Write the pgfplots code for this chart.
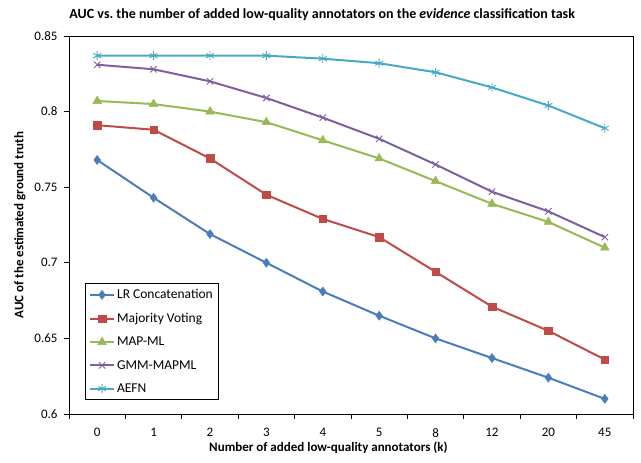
\documentclass[border=0pt]{standalone}
\usepackage{fontspec}
\setmainfont{Carlito}
\usepackage{pgfplots}
\pgfplotsset{compat=1.18}
\definecolor{cLR}{HTML}{4A7EBB}
\definecolor{cMV}{HTML}{BE4B48}
\definecolor{cMAP}{HTML}{98B954}
\definecolor{cGMM}{HTML}{7D60A0}
\definecolor{cAEFN}{HTML}{46AAC5}
\begin{document}
\begin{tikzpicture}
\begin{axis}[
  at={(0,0)}, anchor=south west,
  scale only axis, width=564pt, height=378pt,
  xmin=-0.5, xmax=9.5, ymin=0.6, ymax=0.85,
  xtick={0,...,9},
  xticklabels={0,1,2,3,4,5,8,12,20,45},
  minor xtick={-0.5,0.5,...,9.5},
  major x tick style={draw=none},
  ytick={0.6,0.65,...,0.851},
  yticklabel style={/pgf/number format/fixed,/pgf/number format/precision=2, xshift=-3pt},
  /pgf/number format/assume math mode=true,
  tick align=outside, major tick length=5pt, minor tick length=5pt,
  tick style={black, line width=0.6pt},
  axis line style={black, line width=0.8pt},
  ticklabel style={font=\fontsize{13}{15}\selectfont},
  xticklabel style={yshift=-6pt},
  xtick pos=bottom, ytick pos=left,
  title={\textbf{AUC vs.\ the number of added low-quality annotators on the \textit{evidence} classification task}},
  title style={font=\fontsize{14}{16}\selectfont, at={(0.449,1)}, anchor=center, yshift=15pt},
  xlabel={\textbf{Number of added low-quality annotators (k)}},
  xlabel style={font=\fontsize{13}{15}\selectfont, at={(0.46,0)}, anchor=center, yshift=-34pt},
  ylabel={\textbf{AUC of the estimated ground truth}},
  ylabel style={font=\fontsize{13}{15}\selectfont, at={(0,0.5)}, anchor=center, yshift=49pt},
  legend style={at={(0.028,0.037)}, anchor=south west, draw=black, line width=0.6pt,
    font=\fontsize{13.5}{15}\selectfont, row sep=9pt, inner sep=4pt},
  legend cell align=left,
  every axis plot/.append style={line width=2pt},
  legend image code/.code={\draw[#1] (0pt,0pt) -- (24pt,0pt); \draw[#1,mark repeat=1] plot coordinates {(12pt,0pt)};},
]
\addplot[color=cLR, mark=diamond*, mark size=4.5pt, mark options={solid,line width=0.5pt}] coordinates {
(0,0.768) (1,0.743) (2,0.719) (3,0.700) (4,0.681) (5,0.665) (6,0.650) (7,0.637) (8,0.624) (9,0.610)};
\addlegendentry{LR Concatenation}
\addplot[color=cMV, mark=square*, mark size=3.8pt, mark options={solid,line width=0.5pt}] coordinates {
(0,0.791) (1,0.788) (2,0.769) (3,0.745) (4,0.729) (5,0.717) (6,0.694) (7,0.671) (8,0.655) (9,0.636)};
\addlegendentry{Majority Voting}
\addplot[color=cMAP, mark=triangle*, mark size=5pt, mark options={solid,line width=0.5pt}] coordinates {
(0,0.807) (1,0.805) (2,0.800) (3,0.793) (4,0.781) (5,0.769) (6,0.754) (7,0.739) (8,0.727) (9,0.710)};
\addlegendentry{MAP-ML}
\addplot[color=cGMM, mark=x, mark size=4.5pt, mark options={solid,line width=0.9pt}] coordinates {
(0,0.831) (1,0.828) (2,0.820) (3,0.809) (4,0.796) (5,0.782) (6,0.765) (7,0.747) (8,0.734) (9,0.717)};
\addlegendentry{GMM-MAPML}
\addplot[color=cAEFN, mark=asterisk, mark size=4.5pt, mark options={solid,line width=0.9pt}] coordinates {
(0,0.837) (1,0.837) (2,0.837) (3,0.837) (4,0.835) (5,0.832) (6,0.826) (7,0.816) (8,0.804) (9,0.789)};
\addlegendentry{AEFN}
\end{axis}
\pgfresetboundingbox
\path[use as bounding box] (-69pt,-49pt) rectangle (572pt,414pt);
\end{tikzpicture}
\end{document}
